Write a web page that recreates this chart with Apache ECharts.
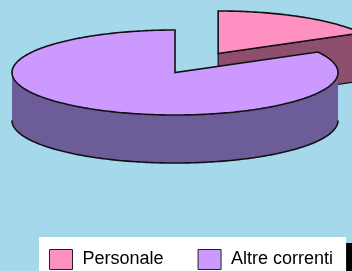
<!DOCTYPE html>
<html>
<head>
<meta charset="utf-8">
<script src="https://cdn.jsdelivr.net/npm/echarts@6/dist/echarts.min.js"></script>
<style>
html,body{margin:0;padding:0;background:#a6d8ec}
#main{width:352px;height:271px}
</style>
</head>
<body>
<div id="main"></div>
<script>
// dati della torta
var categories = ['Personale', 'Altre correnti'];
var values = [17, 83];
// fetta staccata (frazione del raggio)
var explodeRatio = [0.52, 0];

var topColors = ['#ff90c2', '#cc99ff'];
var sideColors = ['#8e4f6e', '#6c5c98'];

var myChart = echarts.init(document.getElementById('main'));

// geometria della torta 3D
var cx = 175, cy = 72.5, rx = 163, ry = 42.5, depth = 48;
var rad = Math.PI / 180;

function pt(a, ox, oy, dz) {
    return [cx + ox + rx * Math.cos(a * rad), cy + oy - ry * Math.sin(a * rad) + dz];
}

function renderSlice(params, api) {
    var i = params.seriesIndex;
    var total = values.reduce(function (s, v) { return s + v; }, 0);
    var before = 0;
    for (var k = 0; k < i; k++) before += values[k];
    // si parte da ore 12 in senso orario
    var a1 = 90 - before / total * 360;
    var a0 = a1 - api.value(0) / total * 360;
    var mid = (a0 + a1) / 2;
    var e = explodeRatio[i];
    var ox = e * rx * Math.cos(mid * rad);
    var oy = -e * ry * Math.sin(mid * rad);
    var children = [];
    var side = sideColors[i];
    var top = topColors[i];
    var c0 = [cx + ox, cy + oy];

    // facce di taglio
    function cutFace(a) {
        var p = pt(a, ox, oy, 0), q = pt(a, ox, oy, depth);
        children.push({
            type: 'polygon',
            shape: { points: [c0, p, q, [c0[0], c0[1] + depth]] },
            style: { fill: side, stroke: '#111', lineWidth: 1.2 }
        });
    }
    if (Math.cos(a0 * rad) > 1e-6) cutFace(a0);
    if (Math.cos(a1 * rad) < -1e-6) cutFace(a1);

    // parete esterna visibile (parte anteriore)
    var angs = [];
    for (var a = a0; a < a1; a += 1) angs.push(a);
    angs.push(a1);
    var run = [];
    function flush() {
        if (run.length > 1) {
            var upper = run.map(function (t) { return pt(t, ox, oy, 0); });
            var lower = run.map(function (t) { return pt(t, ox, oy, depth); });
            children.push({
                type: 'polygon',
                shape: { points: upper.concat(lower.slice().reverse()) },
                style: { fill: side }
            });
            children.push({
                type: 'polyline',
                shape: { points: lower },
                style: { stroke: '#111', lineWidth: 1.6, fill: null }
            });
        }
        run = [];
    }
    angs.forEach(function (t) {
        if (Math.sin(t * rad) <= 0) run.push(t); else flush();
    });
    flush();

    // faccia superiore
    var pts = [c0];
    angs.forEach(function (t) { pts.push(pt(t, ox, oy, 0)); });
    children.push({
        type: 'polygon',
        shape: { points: pts },
        style: { fill: top, stroke: '#111', lineWidth: 1.6 }
    });

    return { type: 'group', children: children };
}

var option = {
    backgroundColor: '#a6d8ec',
    animation: false,
    legend: {
        left: 39,
        top: 237,
        padding: [12, 13, 20, 10],
        itemWidth: 23,
        itemHeight: 20,
        itemGap: 34,
        icon: 'rect',
        backgroundColor: '#fff',
        shadowColor: '#000',
        shadowOffsetX: 6,
        shadowOffsetY: 6,
        shadowBlur: 0,
        itemStyle: { borderColor: '#222', borderWidth: 1 },
        textStyle: {
            fontFamily: 'Liberation Sans',
            fontSize: 18,
            color: '#000',
            padding: [0, 0, 0, 5]
        },
        data: categories
    },
    series: categories.map(function (name, i) {
        return {
            type: 'custom',
            name: name,
            coordinateSystem: 'none',
            silent: true,
            itemStyle: { color: topColors[i] },
            data: [values[i]],
            renderItem: renderSlice
        };
    })
};
myChart.setOption(option);
</script>
</body>
</html>
